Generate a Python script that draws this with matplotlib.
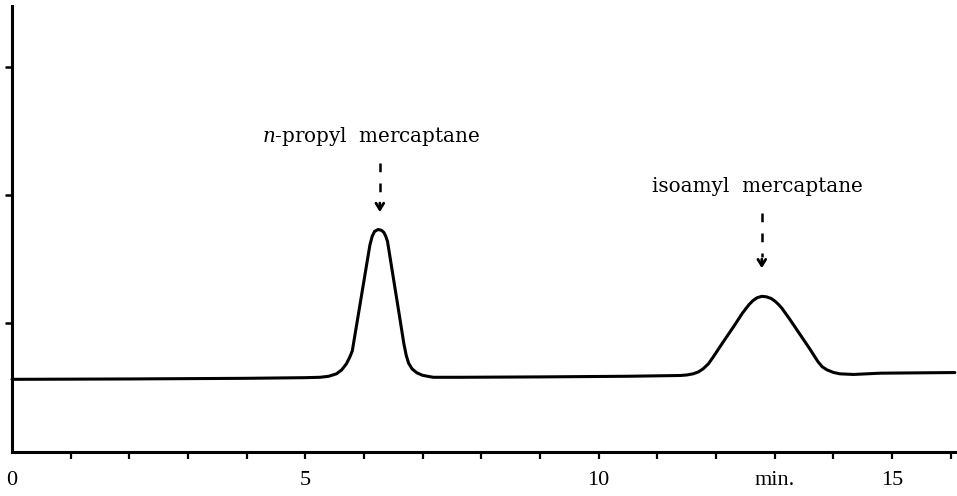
import matplotlib
matplotlib.use("Agg")
import matplotlib.pyplot as plt

# ---- data ----
time_min = [0.0, 2.0, 4.0, 5.0, 5.25, 5.40, 5.53, 5.62, 5.70, 5.76, 5.80, 5.90, 6.00,
            6.10, 6.14, 6.18, 6.24, 6.30, 6.34, 6.37, 6.40, 6.50, 6.60, 6.68, 6.72,
            6.76, 6.82, 6.90, 7.00, 7.18, 7.64, 9.0, 10.5, 11.39, 11.50, 11.61,
            11.70, 11.78, 11.87, 11.95, 12.12, 12.30, 12.45, 12.50, 12.56, 12.63, 12.70,
            12.78, 12.86, 12.94, 13.00, 13.06, 13.12, 13.26, 13.43, 13.60, 13.74, 13.81,
            13.89, 14.00, 14.11, 14.34, 14.80, 16.07]
signal = [0.564, 0.567, 0.572, 0.577, 0.580, 0.588, 0.607, 0.638, 0.685, 0.740, 0.785,
          1.060, 1.335, 1.610, 1.680, 1.717, 1.732, 1.725, 1.708, 1.680, 1.640, 1.355,
          1.070, 0.840, 0.750, 0.690, 0.645, 0.615, 0.595, 0.580, 0.580, 0.583,
          0.588, 0.594, 0.598, 0.607, 0.622, 0.646, 0.685, 0.737, 0.854, 0.975, 1.080,
          1.110, 1.145, 1.178, 1.200, 1.211, 1.207, 1.194, 1.175, 1.150, 1.120, 1.030,
          0.915, 0.800, 0.700, 0.662, 0.638, 0.618, 0.607, 0.602, 0.612, 0.617]

x_ticks = list(range(0, 17))
x_tick_labels = ["0", "", "", "", "", "5", "", "", "", "", "10", "", "", "min.", "", "15", ""]
y_ticks = [1, 2, 3]

peak_names = [r"$n$-propyl  mercaptane", "isoamyl  mercaptane"]
peak_times = [6.24, 12.78]

# ---- figure ----
plt.rcParams["mathtext.fontset"] = "dejavuserif"
fig = plt.figure(figsize=(9.57, 4.96), dpi=100)
W, H = 957, 496
left_px, right_px, bottom_px, top_px = 12, 955.4, 451.7, 6
ax = fig.add_axes([left_px / W, (H - bottom_px) / H,
                   (right_px - left_px) / W, (bottom_px - top_px) / H])
ax.set_xlim(0, 16.08)
ax.set_ylim(0, (bottom_px - top_px) / 128.3)

ax.plot(time_min, signal, color="black", lw=2.2, solid_joinstyle="round",
        solid_capstyle="round", clip_on=False)

for s in ["top", "right"]:
    ax.spines[s].set_visible(False)
for s in ["left", "bottom"]:
    ax.spines[s].set_linewidth(2.2)

ax.set_xticks(x_ticks)
ax.set_xticklabels(x_tick_labels, fontfamily="Liberation Serif", fontsize=16)
ax.tick_params(axis="x", direction="out", length=5, width=1.6, pad=9)
ax.xaxis.get_major_ticks()[0].tick1line.set_visible(False)
ax.set_yticks(y_ticks)
ax.set_yticklabels([])
ax.tick_params(axis="y", direction="out", length=5, width=1.8)

# annotations
text_y = [2.414, 2.024]
text_dx = [-0.12, -0.08]
arrow_top = [2.250, 1.859]
arrow_tip = [1.868, 1.430]
arrow_x = [6.27, 12.78]
for name, tx, dx, ty, at, ap, axx in zip(peak_names, peak_times, text_dx, text_y,
                                         arrow_top, arrow_tip, arrow_x):
    ax.text(tx + dx, ty, name, ha="center", va="baseline",
            fontfamily="DejaVu Serif", fontsize=14.3)
    ax.plot([axx, axx], [at, ap + 0.09], color="black", lw=1.8,
            dashes=(3.5, 4.5), solid_capstyle="butt")
    ax.annotate("", xy=(axx, ap), xytext=(axx, ap + 0.07),
                arrowprops=dict(arrowstyle="->,head_length=0.45,head_width=0.28",
                                lw=2.0, color="black", shrinkA=0, shrinkB=0))

fig.savefig("out.png", dpi=100)
